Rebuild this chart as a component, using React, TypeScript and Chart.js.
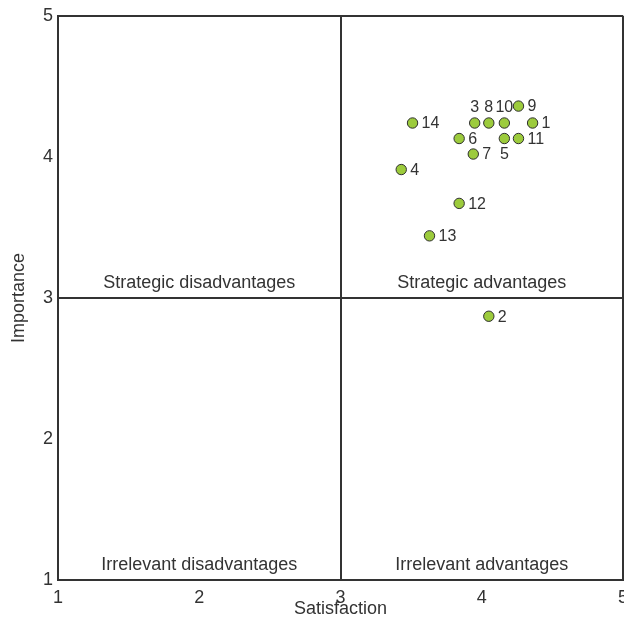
import { useEffect, useRef } from 'react';
import { Chart, registerables } from 'chart.js';

Chart.register(...registerables);

// item numbers, satisfaction (x) and importance (y)
const itemIds = ['1', '2', '3', '4', '5', '6', '7', '8', '9', '10', '11', '12', '13', '14'];
const satisfaction = [4.36, 4.05, 3.95, 3.43, 4.16, 3.84, 3.94, 4.05, 4.26, 4.16, 4.26, 3.84, 3.63, 3.51];
const importance = [4.24, 2.87, 4.24, 3.91, 4.13, 4.13, 4.02, 4.24, 4.36, 4.24, 4.13, 3.67, 3.44, 4.24];

const quadrantNames = [
  'Strategic disadvantages',
  'Strategic advantages',
  'Irrelevant disadvantages',
  'Irrelevant advantages',
];
// quadrant label anchors: [satisfaction, importance line under the text]
const quadrantAnchors = [
  [2, 3],
  [4, 3],
  [2, 1],
  [4, 1],
];

const axisTicks = [1, 2, 3, 4, 5];

// where each item number sits relative to its marker
const labelSide: Record<string, string> = { '3': 'top', '8': 'top', '10': 'top', '5': 'bottom' };

const INK = '#333333';
const FONT = "'Liberation Sans', Arial, sans-serif";

const textPlugin = {
  id: 'quadrantText',
  afterDatasetsDraw(chart: Chart) {
    const { ctx, scales } = chart;
    ctx.save();
    ctx.fillStyle = INK;

    // quadrant names
    ctx.font = `18px ${FONT}`;
    ctx.textAlign = 'center';
    ctx.textBaseline = 'alphabetic';
    quadrantNames.forEach((name, i) => {
      const [qx, qy] = quadrantAnchors[i];
      ctx.fillText(name, scales.x.getPixelForValue(qx), scales.y.getPixelForValue(qy) - 10);
    });

    // item numbers
    ctx.font = `16px ${FONT}`;
    const meta = chart.getDatasetMeta(0);
    meta.data.forEach((pt: any, i: number) => {
      const id = itemIds[i];
      const side = labelSide[id] || 'right';
      ctx.textBaseline = 'middle';
      if (side === 'top') {
        ctx.textAlign = 'center';
        ctx.fillText(id, pt.x, pt.y - 15);
      } else if (side === 'bottom') {
        ctx.textAlign = 'center';
        ctx.fillText(id, pt.x, pt.y + 16);
      } else {
        ctx.textAlign = 'left';
        ctx.fillText(id, pt.x + 9, pt.y + 1);
      }
    });
    ctx.restore();
  },
};

export default function App() {
  const canvasRef = useRef<HTMLCanvasElement>(null);
  const chartRef = useRef<Chart | null>(null);

  useEffect(() => {
    if (!canvasRef.current) return;
    if (chartRef.current) chartRef.current.destroy();

    const gridColor = (c: any) =>
      c.tick && (c.tick.value === 3 || c.tick.value === 5) ? INK : 'rgba(0,0,0,0)';

    chartRef.current = new Chart(canvasRef.current, {
      type: 'scatter',
      data: {
        datasets: [
          {
            data: satisfaction.map((s, i) => ({ x: s, y: importance[i] })),
            backgroundColor: '#9ccb3c',
            borderColor: '#2f2f2f',
            borderWidth: 1,
            pointRadius: 5.2,
          },
        ],
      },
      options: {
        animation: false,
        responsive: true,
        maintainAspectRatio: false,
        layout: { padding: { top: 15, right: 37, bottom: 0, left: 0 } },
        plugins: {
          legend: { display: false },
          tooltip: { enabled: false },
        },
        scales: {
          x: {
            type: 'linear',
            min: 1,
            max: 5,
            afterBuildTicks: (s: any) => {
              s.ticks = axisTicks.map((v) => ({ value: v }));
            },
            afterFit: (s: any) => {
              s.height = 38;
            },
            ticks: { color: INK, font: { size: 18, family: FONT }, padding: 7 },
            grid: { color: gridColor, lineWidth: 2, drawTicks: false },
            border: { display: true, color: INK, width: 2 },
            title: {
              display: true,
              text: 'Satisfaction',
              color: INK,
              font: { size: 18, family: FONT, lineHeight: 1 },
              padding: 0,
            },
          },
          y: {
            type: 'linear',
            min: 1,
            max: 5,
            afterBuildTicks: (s: any) => {
              s.ticks = axisTicks.map((v) => ({ value: v }));
            },
            afterFit: (s: any) => {
              s.width = 58;
            },
            ticks: { color: INK, font: { size: 18, family: FONT }, padding: 5 },
            grid: { color: gridColor, lineWidth: 2, drawTicks: false },
            border: { display: true, color: INK, width: 2 },
            title: {
              display: true,
              text: 'Importance',
              color: INK,
              font: { size: 18, family: FONT, lineHeight: 1 },
              padding: { top: 10, bottom: 0 },
            },
          },
        },
      },
      plugins: [textPlugin],
    });

    return () => {
      if (chartRef.current) {
        chartRef.current.destroy();
        chartRef.current = null;
      }
    };
  }, []);

  return (
    <div
      style={{
        position: 'fixed',
        left: 0,
        top: 0,
        width: 624,
        height: 618,
        overflow: 'hidden',
        background: '#fff',
      }}
    >
      <div style={{ position: 'relative', width: 660, height: 618 }}>
        <canvas ref={canvasRef}></canvas>
      </div>
    </div>
  );
}
